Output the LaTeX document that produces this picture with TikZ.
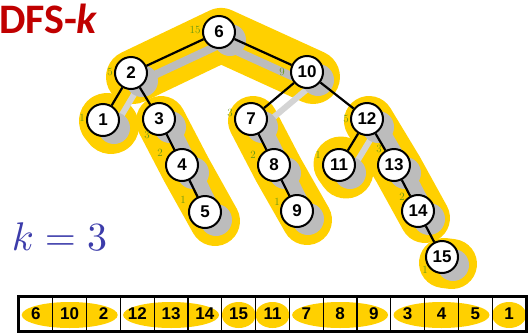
\documentclass[tikz,border=0pt]{standalone}
\usepackage{fontspec}
\newfontfamily\nodefont{Liberation Sans}
\newfontfamily\titlefont{Carlito}
\usetikzlibrary{calc}
\definecolor{blobyellow}{RGB}{255,208,0}
\definecolor{shadowgray}{RGB}{188,188,188}
\definecolor{lightshadow}{RGB}{212,212,212}
\definecolor{lblgreen}{RGB}{100,150,20}
\definecolor{titlered}{RGB}{192,0,0}
\definecolor{mathblue}{RGB}{60,60,170}
\tikzset{
  tnode/.style={circle,draw,fill=white,line width=2pt,minimum size=32pt,inner sep=0pt,
    font=\nodefont\bfseries\fontsize{17}{17}\selectfont},
  blob/.style={draw=blobyellow,line cap=round,line join=round,line width=#1},
  shadowband/.style={draw=shadowgray,line cap=round,line join=round,line width=#1},
  lightband/.style={draw=lightshadow,line cap=round,line width=6pt},
  edge/.style={draw=black,line width=2.2pt},
  lbl/.style={text=lblgreen,inner sep=0pt,font=\fontsize{11}{11}\selectfont},
  cell/.style={draw,line width=1.3pt,minimum width=33.8pt,minimum height=34pt,inner sep=0pt,
    font=\nodefont\bfseries\fontsize{17}{17}\selectfont}
}
\begin{document}
\begin{tikzpicture}[x=1pt,y=-1pt]
\path[use as bounding box] (0,0) rectangle (528,333);
% node centres
\coordinate (c6) at (219,32);
\coordinate (c2) at (131,73);
\coordinate (c10) at (307,72);
\coordinate (c1) at (103,120);
\coordinate (c3) at (159,119);
\coordinate (c4) at (182,165);
\coordinate (c5) at (205,212);
\coordinate (c7) at (251,119);
\coordinate (c8) at (274,165);
\coordinate (c9) at (297,211);
\coordinate (c12) at (367,119);
\coordinate (c11) at (339,165);
\coordinate (c13) at (394,165);
\coordinate (c14) at (418,211);
\coordinate (c15) at (442,257);
\foreach \n in {1,...,15} \coordinate (s\n) at ($(c\n)+(11,8)$);
\foreach \n in {1,...,15} \coordinate (b\n) at ($(c\n)+(12,6)$);
% yellow blobs
\draw[blob=54] ($(c2)+(2,4)$) -- ($(c6)+(2,3)$) -- ($(c10)+(6,5)$);
\draw[blob=50] ($(c3)+(2,2)$) -- ($(c4)+(4,4)$) -- ($(c5)+(10,9)$);
\draw[blob=50] ($(c7)+(2,2)$) -- ($(c8)+(4,4)$) -- ($(c9)+(10,9)$);
\draw[blob=50] ($(c12)+(2,2)$) -- ($(c13)+(4,4)$) -- ($(c14)+(7,7)$);
\draw[blob=56] ($(c1)+(4,1)$) -- ($(c1)+(8,6)$);
\draw[blob=55] ($(c11)+(2,-1)$) -- ($(c11)+(7,6)$);
\draw[blob=50] ($(c15)+(2,6)$) -- ($(c15)+(10,7)$);
% gray shadows
\draw[shadowband=8pt] ($(c2)+(2,12)$) -- ($(c6)+(2,12)$) -- ($(c10)+(2,12)$);
\draw[shadowband=14pt] (b3) -- (b4) -- (b5);
\draw[shadowband=14pt] (b7) -- (b8) -- (b9);
\draw[shadowband=14pt] (b12) -- (b13) -- (b14);
\draw[lightband] (s2) -- (s1);
\draw[lightband] (s10) -- (s7);
\draw[lightband] (s12) -- (s11);
\foreach \n in {1,...,15} \fill[shadowgray] (s\n) circle (16);
% tree nodes
\foreach \n in {1,...,15} \node[tnode] (n\n) at (c\n) {\n};
% edges
\draw[edge] (n6) -- (n2);
\draw[edge] (n6) -- (n10);
\draw[edge] (n2) -- (n1);
\draw[edge] (n2) -- (n3);
\draw[edge] (n3) -- (n4);
\draw[edge] (n4) -- (n5);
\draw[edge] (n10) -- (n7);
\draw[edge] (n10) -- (n12);
\draw[edge] (n7) -- (n8);
\draw[edge] (n8) -- (n9);
\draw[edge] (n12) -- (n11);
\draw[edge] (n12) -- (n13);
\draw[edge] (n13) -- (n14);
\draw[edge] (n14) -- (n15);
% green labels
\node[lbl] (l6) at (195,30) {15};
\node[lbl] (l2) at (110,72) {5};
\node[lbl] (l10) at (282,72) {9};
\node[lbl] (l1) at (82,118) {1};
\node[lbl] (l3) at (147,135) {3};
\node[lbl] (l4) at (160,153) {2};
\node[lbl] (l5) at (183,200) {1};
\node[lbl] (l7) at (230,113) {3};
\node[lbl] (l8) at (253,155) {2};
\node[lbl] (l9) at (277,202) {1};
\node[lbl] (l12) at (346,119) {5};
\node[lbl] (l11) at (318,155) {1};
\node[lbl] (l13) at (379,149) {3};
\node[lbl] (l14) at (402,197) {2};
\node[lbl] (l15) at (425,270) {1};
% title and k
\node[anchor=base west,inner sep=0pt,text=titlered,font=\titlefont\bfseries\fontsize{42}{42}\selectfont] (title) at (-1,33) {DFS-\textit{k}};
\node[anchor=base west,inner sep=0pt,text=mathblue,scale=4] (keq) at (11,250) {$k=3$};
% array ellipses
\fill[blobyellow] (69.7,315) ellipse [x radius=48pt,y radius=13pt];
\fill[blobyellow] (171.1,315) ellipse [x radius=48pt,y radius=13pt];
\fill[blobyellow] (238.7,315) ellipse [x radius=17pt,y radius=13pt];
\fill[blobyellow] (272.5,315) ellipse [x radius=17pt,y radius=13pt];
\fill[blobyellow] (340.1,315) ellipse [x radius=48pt,y radius=13pt];
\fill[blobyellow] (441.5,315) ellipse [x radius=48pt,y radius=13pt];
\fill[blobyellow] (509.1,315) ellipse [x radius=17pt,y radius=13pt];
% array cells
\foreach \v [count=\i] in {6,10,2,12,13,14,15,11,7,8,9,3,4,5,1}
  \node[cell] (a\i) at ({19+33.8*(\i-0.5)},314) {\v};
\draw[line width=2pt] (a1.north west) rectangle (a15.south east);
\end{tikzpicture}
\end{document}
